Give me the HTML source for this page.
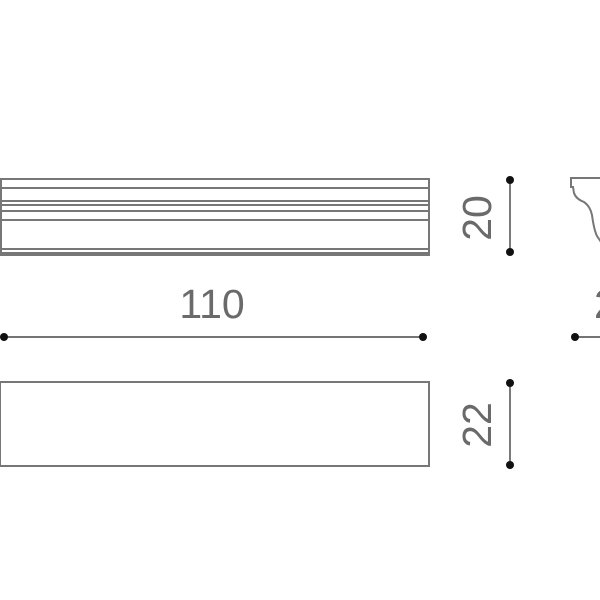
<!DOCTYPE html>
<html><head><style>
html,body{margin:0;padding:0;background:#fff;width:600px;height:600px;overflow:hidden}
</style></head><body>
<svg width="600" height="600" viewBox="0 0 600 600" xmlns="http://www.w3.org/2000/svg">
<g fill="none" stroke="#777" stroke-width="2">
<rect x="1" y="179" width="428" height="76"/>
<line x1="1" y1="188" x2="429" y2="188"/>
<line x1="1" y1="201" x2="429" y2="201"/>
<line x1="1" y1="205" x2="429" y2="205"/>
<line x1="1" y1="211" x2="429" y2="211"/>
<line x1="1" y1="220" x2="429" y2="220"/>
<line x1="1" y1="249" x2="429" y2="249"/>
<line x1="1" y1="253" x2="429" y2="253"/>
<rect x="0" y="382" width="429" height="84"/>
<path d="M601 178 H571 V187 H573 L574 193 Q576 199 584 202 Q590 206 592 215 Q594 230 597 236 L601 242"/>
</g>
<g stroke="#222" stroke-width="1.2">
<line x1="510" y1="180" x2="510" y2="252"/>
<line x1="4" y1="337" x2="423" y2="337"/>
<line x1="510" y1="383" x2="510" y2="465"/>
<line x1="575" y1="337" x2="600" y2="337"/>
</g>
<g fill="#111">
<circle cx="510" cy="180" r="4"/><circle cx="510" cy="252" r="4"/>
<circle cx="4" cy="337" r="4"/><circle cx="423" cy="337" r="4"/>
<circle cx="510" cy="383" r="4"/><circle cx="510" cy="465" r="4"/>
<circle cx="575" cy="337" r="4"/>
</g>
<g font-family="Liberation Sans, sans-serif" font-size="41" fill="#6a6a6a">
<text x="212" y="318" text-anchor="middle">110</text>
<text transform="translate(491 218) rotate(-90)" text-anchor="middle">20</text>
<text transform="translate(491 425) rotate(-90)" text-anchor="middle">22</text>
<text x="594" y="318">2</text>
</g>
</svg>
</body></html>
